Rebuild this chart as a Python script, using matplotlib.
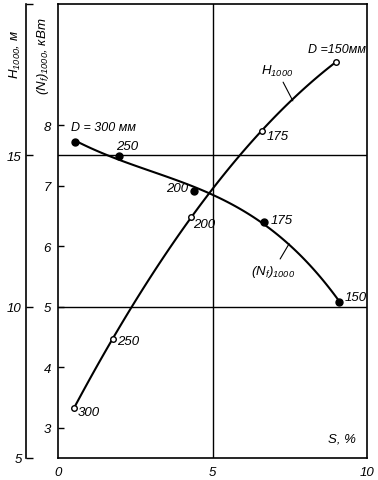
import numpy as np
import matplotlib
matplotlib.use("Agg")
import matplotlib.pyplot as plt

plt.rcParams['font.family'] = ['Liberation Sans', 'DejaVu Sans']
plt.rcParams['font.style'] = 'italic'
plt.rcParams['mathtext.fontset'] = 'custom'
plt.rcParams['mathtext.rm'] = 'Liberation Sans:italic'
plt.rcParams['mathtext.it'] = 'Liberation Sans:italic'
plt.rcParams['font.size'] = 9.5

# data
diameters = ['300', '250', '200', '175', '150']
s_head = [0.52, 1.77, 4.29, 6.61, 9.0]
head = [6.65, 8.94, 12.95, 15.8, 18.1]          # H1000, m
s_power = [0.55, 1.97, 4.39, 6.68, 9.1]
power = [7.72, 7.49, 6.91, 6.40, 5.08]          # (Nf)1000, kW

fig = plt.figure(figsize=(3.78, 4.81), dpi=100)
ax = fig.add_axes([58/378, 22/481, 309/378, 454/481])
ax2 = ax.twinx()

ax.set_xlim(0, 10)
ax.set_ylim(2.5, 10)
ax2.set_ylim(5, 20)

# frame and grid
for sp in ax.spines.values():
    sp.set_linewidth(1.2)
for side in ['right', 'top', 'bottom']:
    ax2.spines[side].set_visible(False)
ax2.spines['left'].set_position(('outward', 23))
ax2.spines['left'].set_linewidth(1.2)
ax2.yaxis.set_ticks_position('left')
ax2.yaxis.set_label_position('left')

ax.axvline(5, color='black', lw=1.0)
ax.axhline(7.5, color='black', lw=1.0)
ax.axhline(5, color='black', lw=1.0)

ax.set_xticks([0, 5, 10])
ax.tick_params(axis='x', length=0, pad=6)
ax.set_yticks([3, 4, 5, 6, 7, 8])
ax.tick_params(axis='y', direction='in', length=4, width=1, pad=5)
ax2.set_yticks([5, 10, 15, 20])
ax2.set_yticklabels(['5', '10', '15', ''])
ax2.tick_params(axis='y', direction='in', length=5, width=1, pad=3)

# fitted curves through the points
xs = np.linspace(s_head[0], s_head[-1], 100)
ax2.plot(xs, np.polyval(np.polyfit(s_head, head, 2), xs), color='black', lw=1.5)
ax2.plot(s_head, head, 'o', ms=4, mfc='white', mec='black', mew=1.0)

xp = np.linspace(s_power[0], s_power[-1], 100)
ax.plot(xp, np.polyval(np.polyfit(s_power, power, 3), xp), color='black', lw=1.5)
ax.plot(s_power, power, 'o', ms=5, color='black')

# point labels
h_offsets = [(4, -4), (4, -2), (3, -7), (4, -5)]
for i, off in enumerate(h_offsets):
    ax2.annotate(diameters[i], (s_head[i], head[i]), textcoords='offset pixels',
                 xytext=off, ha='left', va='center')
ax.annotate(diameters[1], (s_power[1], power[1]), textcoords='offset pixels',
            xytext=(8, 10), ha='center', va='center')
ax.annotate(diameters[2], (s_power[2], power[2]), textcoords='offset pixels',
            xytext=(-5, 3), ha='right', va='center')
ax.annotate(diameters[3], (s_power[3], power[3]), textcoords='offset pixels',
            xytext=(6, 2), ha='left', va='center')
ax.annotate(diameters[4], (s_power[4], power[4]), textcoords='offset pixels',
            xytext=(5, 5), ha='left', va='center')

ax.text(0.42, 7.97, 'D = 300 мм', ha='left', va='center', fontsize=9)
ax.text(9.03, 9.26, 'D =150мм', ha='center', va='center', fontsize=9)

# curve names with leader lines
ax.annotate('H$_{1000}$', xy=(7.6, 8.40), xytext=(7.09, 8.9), ha='center', va='center',
            arrowprops=dict(arrowstyle='-', lw=0.8, color='black', shrinkA=1, shrinkB=0))
ax.annotate('(N$_f$)$_{1000}$', xy=(7.48, 6.04), xytext=(6.96, 5.59), ha='center', va='center',
            arrowprops=dict(arrowstyle='-', lw=0.8, color='black', shrinkA=1, shrinkB=0))

ax.text(9.2, 2.72, 'S, %', ha='center', va='bottom')

fig.text(15/378, 1 - 30/481, 'H$_{1000}$, м', rotation=90, ha='center', va='top')
fig.text(43/378, 1 - 18/481, '(N$_f$)$_{1000}$, кВт', rotation=90, ha='center', va='top')

fig.savefig('out.png', dpi=100)
